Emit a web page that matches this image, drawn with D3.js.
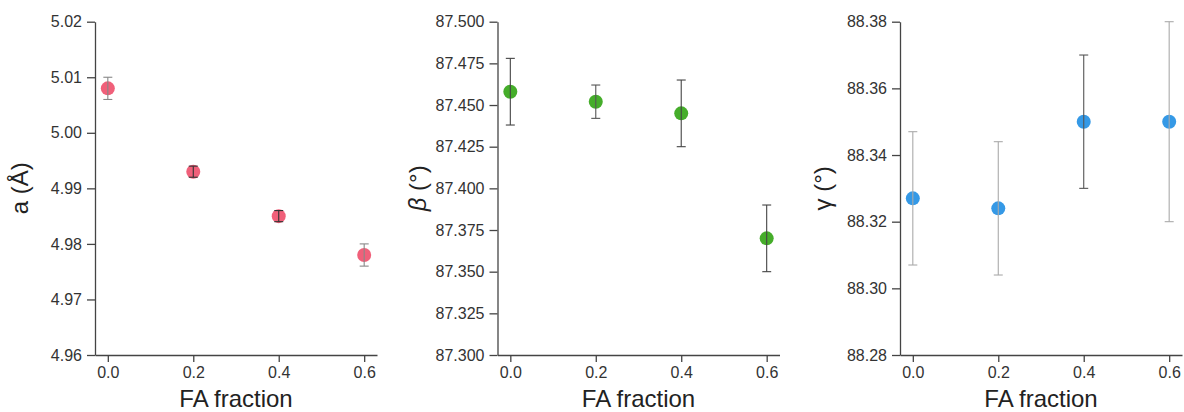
<!DOCTYPE html>
<html>
<head>
<meta charset="utf-8">
<script src="https://cdn.jsdelivr.net/npm/d3@7"></script>
<style>
  body { margin: 0; background: #fff; }
  svg { font-family: Arial, "Liberation Sans", sans-serif; }
  .tick text { fill: #333; }
</style>
</head>
<body>
<svg id="chart" width="1184" height="412"></svg>
<script>
const fraction = [0.0, 0.2, 0.4, 0.6];
const xTicks = [0.0, 0.2, 0.4, 0.6];

const aValues = [5.008, 4.993, 4.985, 4.978];
const aErrors = [0.002, 0.001, 0.001, 0.002];
const aTicks = [4.96, 4.97, 4.98, 4.99, 5.00, 5.01, 5.02];

const betaValues = [87.458, 87.452, 87.445, 87.370];
const betaErrors = [0.020, 0.010, 0.020, 0.020];
const betaTicks = [87.300, 87.325, 87.350, 87.375, 87.400, 87.425, 87.450, 87.475, 87.500];

const gammaValues = [88.327, 88.324, 88.350, 88.350];
const gammaErrors = [0.020, 0.020, 0.020, 0.030];
const gammaTicks = [88.28, 88.30, 88.32, 88.34, 88.36, 88.38];

// panel settings (styles kept separate from the data)
const panels = [
    { values: aValues, errors: aErrors, ticks: aTicks, fmt: ".2f", color: "#f0607a",
      barColors: ["#888", "#333", "#333", "#888"], title: "a (Å)", titleX: 20 },
    { values: betaValues, errors: betaErrors, ticks: betaTicks, fmt: ".3f", color: "#45ad2a",
      barColors: ["#444", "#555", "#444", "#444"], title: "β (°)", italic: "β", titleX: 418 },
    { values: gammaValues, errors: gammaErrors, ticks: gammaTicks, fmt: ".2f", color: "#3599e6",
      barColors: ["#aaa", "#aaa", "#555", "#aaa"], title: "γ (°)", titleX: 823 }
];

const svg = d3.select("#chart");
const plotTop = 21.7, plotBottom = 355, plotW = 282, step = 402.5, left0 = 95;

panels.forEach((p, k) => {
    const x0 = left0 + k * step;
    const x = d3.scaleLinear().domain([-0.03, 0.63]).range([x0, x0 + plotW]);
    const y = d3.scaleLinear().domain([p.ticks[0], p.ticks[p.ticks.length - 1]]).range([plotBottom, plotTop]);

    const xAxis = svg.append("g")
        .attr("transform", `translate(0,${plotBottom})`)
        .call(d3.axisBottom(x).tickValues(xTicks).tickFormat(d3.format(".1f")).tickSize(7).tickSizeOuter(0).tickPadding(5));
    const yAxis = svg.append("g")
        .attr("transform", `translate(${x0},0)`)
        .call(d3.axisLeft(y).tickValues(p.ticks).tickFormat(d3.format(p.fmt)).tickSize(8).tickSizeOuter(0).tickPadding(5));
    [xAxis, yAxis].forEach(ax => {
        ax.selectAll("path, line").attr("stroke", "#444").attr("stroke-width", 1.3);
        ax.selectAll("text").style("font-size", "16px").attr("fill", "#333");
    });

    const g = svg.append("g");
    const pts = fraction.map((f, i) => ({ f, v: p.values[i], e: p.errors[i], c: p.barColors[i] }));

    g.selectAll("circle")
        .data(pts)
        .join("circle")
        .attr("cx", d => x(d.f))
        .attr("cy", d => y(d.v))
        .attr("r", 7)
        .attr("fill", p.color);

    const bars = g.selectAll(".err")
        .data(pts)
        .join("g")
        .attr("class", "err")
        .attr("stroke", d => d.c)
        .attr("stroke-width", 1.1);
    bars.append("line")
        .attr("x1", d => x(d.f)).attr("x2", d => x(d.f))
        .attr("y1", d => y(d.v + d.e)).attr("y2", d => y(d.v - d.e));
    bars.append("line")
        .attr("x1", d => x(d.f) - 4.5).attr("x2", d => x(d.f) + 4.5)
        .attr("y1", d => y(d.v + d.e)).attr("y2", d => y(d.v + d.e));
    bars.append("line")
        .attr("x1", d => x(d.f) - 4.5).attr("x2", d => x(d.f) + 4.5)
        .attr("y1", d => y(d.v - d.e)).attr("y2", d => y(d.v - d.e));

    svg.append("text")
        .attr("x", x0 + plotW / 2)
        .attr("y", 407)
        .attr("text-anchor", "middle")
        .style("font-size", "24px")
        .attr("fill", "#222")
        .text("FA fraction");

    const yt = svg.append("text")
        .attr("transform", `translate(${p.titleX},${(plotTop + plotBottom) / 2}) rotate(-90)`)
        .attr("text-anchor", "middle")
        .attr("dy", "0.35em")
        .style("font-size", "24px")
        .attr("fill", "#222");
    if (p.italic) {
        yt.append("tspan").style("font-style", "italic").text(p.italic);
        yt.append("tspan").text(p.title.slice(p.italic.length));
    } else {
        yt.text(p.title);
    }
});
</script>
</body>
</html>
